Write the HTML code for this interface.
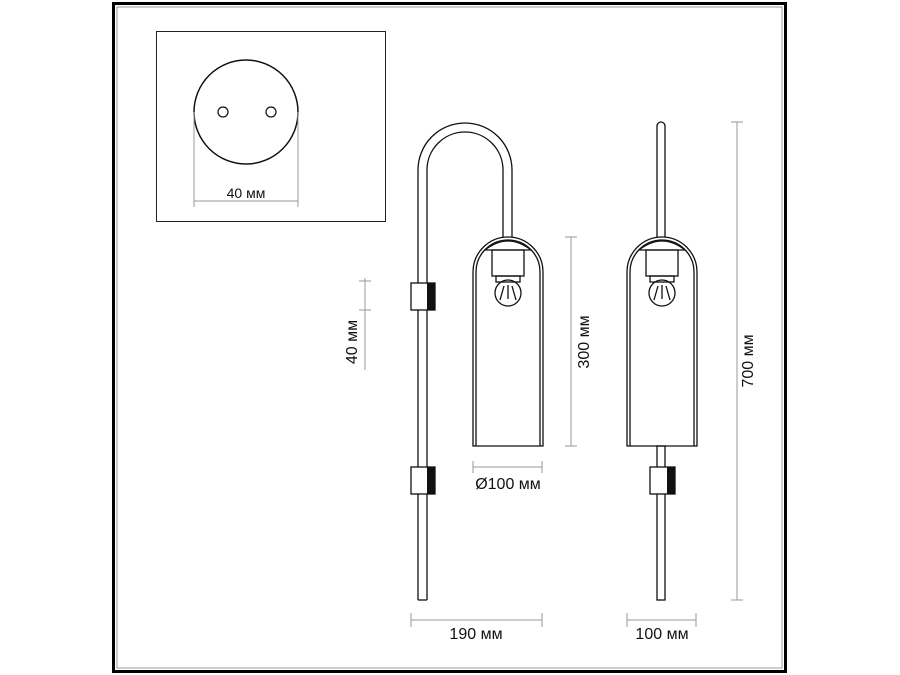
<!DOCTYPE html>
<html><head><meta charset="utf-8"><style>
html,body{margin:0;padding:0;background:#fff;width:900px;height:675px;overflow:hidden}
svg{display:block}
text{font-family:"Liberation Sans",sans-serif;font-size:14px;fill:#111}
</style></head><body>
<svg width="900" height="675" viewBox="0 0 900 675" xmlns="http://www.w3.org/2000/svg">
<rect x="113.5" y="3.5" width="672" height="668" fill="none" stroke="#000" stroke-width="3"/>
<rect x="117" y="7" width="665" height="661" fill="none" stroke="#999" stroke-width="1"/>
<rect x="156.5" y="31.5" width="229" height="190" fill="none" stroke="#222" stroke-width="1"/>
<circle cx="246" cy="112" r="52" fill="none" stroke="#111" stroke-width="1.5"/>
<circle cx="223" cy="112" r="5" fill="none" stroke="#111" stroke-width="1.2"/>
<circle cx="271" cy="112" r="5" fill="none" stroke="#111" stroke-width="1.2"/>
<g stroke="#999" stroke-width="1">
<line x1="194" y1="112" x2="194" y2="207"/><line x1="298" y1="112" x2="298" y2="207"/>
<line x1="194" y1="201" x2="298" y2="201"/>
</g>
<text x="246" y="198" text-anchor="middle">40 мм</text>

<g fill="none" stroke="#111" stroke-width="1.3">
<path d="M418 600 V170 A47 47 0 0 1 512 170 V237"/>
<path d="M427 600 V170 A38 38 0 0 1 503 170 V237"/>
<line x1="418" y1="600" x2="427" y2="600"/>
<path d="M473 446 V272 A35 35 0 0 1 543 272 V446 Z"/>
<path d="M476 446 V272 A32 32 0 0 1 540 272"/>
<path d="M540 272 V446"/>
<path d="M485 250 Q508 232 531 250 Z"/>
<rect x="492" y="250" width="32" height="26"/>
<rect x="496" y="276" width="24" height="6"/>
<circle cx="508" cy="293" r="13"/>
<path d="M504 286 L500 300 M512 286 L516 300 M508 285 V299"/>
<rect x="411" y="283" width="24" height="27" fill="#fff"/>
<rect x="411" y="467" width="24" height="27" fill="#fff"/>
<path d="M657 237 V126 A4 4 0 0 1 665 126 V237"/>
<path d="M627 446 V272 A35 35 0 0 1 697 272 V446 Z"/>
<path d="M630 446 V272 A32 32 0 0 1 694 272 V446"/>
<path d="M639 250 Q662 232 685 250 Z"/>
<rect x="646" y="250" width="32" height="26"/>
<rect x="650" y="276" width="24" height="6"/>
<circle cx="662" cy="293" r="13"/>
<path d="M658 286 L654 300 M666 286 L670 300 M662 285 V299"/>
<rect x="657" y="446" width="8" height="154"/>
<rect x="650" y="467" width="25" height="27" fill="#fff"/>
</g>
<g fill="#111">
<rect x="427" y="283" width="8" height="27"/>
<rect x="427" y="467" width="8" height="27"/>
<rect x="667" y="467" width="8" height="27"/>
</g>
<g stroke="#999" stroke-width="1" fill="none">
<line x1="571" y1="237" x2="571" y2="446"/><line x1="565" y1="237" x2="577" y2="237"/><line x1="565" y1="446" x2="577" y2="446"/>
<line x1="473" y1="467" x2="542" y2="467"/><line x1="473" y1="461" x2="473" y2="473"/><line x1="542" y1="461" x2="542" y2="473"/>
<line x1="365" y1="278" x2="365" y2="370"/><line x1="359" y1="281" x2="371" y2="281"/><line x1="359" y1="310" x2="371" y2="310"/>
<line x1="411" y1="620" x2="542" y2="620"/><line x1="411" y1="613" x2="411" y2="627"/><line x1="542" y1="613" x2="542" y2="627"/>
<line x1="627" y1="620" x2="696" y2="620"/><line x1="627" y1="613" x2="627" y2="627"/><line x1="696" y1="613" x2="696" y2="627"/>
<line x1="737" y1="122" x2="737" y2="600"/><line x1="731" y1="122" x2="743" y2="122"/><line x1="731" y1="600" x2="743" y2="600"/>
</g>
<text x="508" y="489" text-anchor="middle" style="font-size:16px">Ø100 мм</text>
<text x="476" y="639" text-anchor="middle" style="font-size:16px">190 мм</text>
<text x="662" y="639" text-anchor="middle" style="font-size:16px">100 мм</text>
<text transform="translate(589,342) rotate(-90)" text-anchor="middle" style="font-size:16px">300 мм</text>
<text transform="translate(357,342) rotate(-90)" text-anchor="middle" style="font-size:16px">40 мм</text>
<text transform="translate(753,361) rotate(-90)" text-anchor="middle" style="font-size:16px">700 мм</text>
</svg>
</body></html>
